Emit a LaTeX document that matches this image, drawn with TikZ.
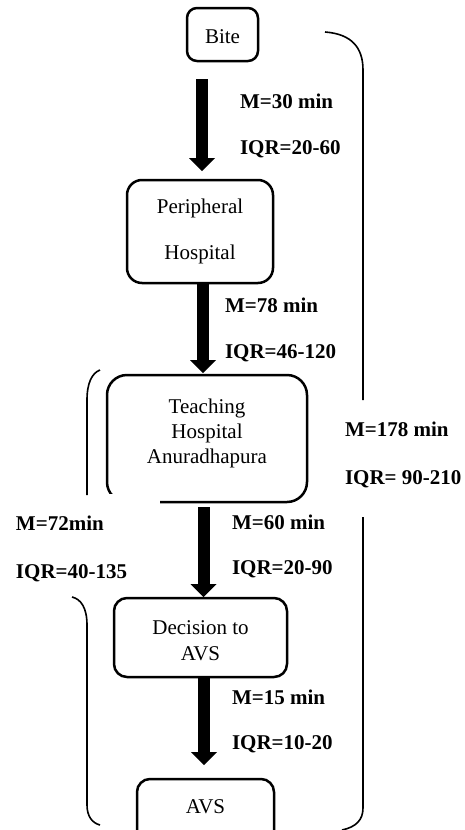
\documentclass[tikz,border=0pt]{standalone}
\usepackage{fontspec}
\setmainfont{Liberation Serif}
\usetikzlibrary{arrows.meta}
\begin{document}
\begin{tikzpicture}[x=1pt,y=-1pt,
  every node/.style={inner sep=0pt,outer sep=0pt,font=\fontsize{21}{25}\selectfont},
  stagebox/.style={draw,line width=2.5pt,minimum width=#1},
  boxtxt/.style={anchor=base},
  lab/.style={anchor=base west,font=\fontsize{21}{25}\selectfont\bfseries},
  bigarrow/.style={line width=12pt,-{Triangle[width=26pt,length=13pt,line width=0pt]}},
  bracket/.style={line width=1.6pt}]
\useasboundingbox (0,0) rectangle (465,830);
\begin{scope}
\clip (0,0) rectangle (465,830);
% boxes
\node[stagebox=71pt,minimum height=53pt,rounded corners=10pt] (bite) at (222.5,34.5) {};
\node[stagebox=146pt,minimum height=103pt,rounded corners=15pt] (peri) at (200,231.5) {};
\node[stagebox=200pt,minimum height=127pt,rounded corners=20pt] (teach) at (207,438.5) {};
\fill[white] (104,494) rectangle (160,507);
\node[stagebox=173pt,minimum height=79pt,rounded corners=13pt] (dec) at (200.5,637.5) {};
\node[stagebox=137pt,minimum height=70pt,rounded corners=13pt] (avs) at (205.5,814) {};
\end{scope}
% box texts
\node[boxtxt] (biteT) at (222.5,43) {Bite};
\node[boxtxt] (periT1) at (200,213) {Peripheral};
\node[boxtxt] (periT2) at (200,259) {Hospital};
\node[boxtxt] (teachT1) at (207,413) {Teaching};
\node[boxtxt] (teachT2) at (207,438) {Hospital};
\node[boxtxt] (teachT3) at (207,463) {Anuradhapura};
\node[boxtxt] (decT1) at (200.5,634) {Decision to};
\node[boxtxt] (decT2) at (200.5,660) {AVS};
\node[boxtxt] (avsT) at (205.5,813) {AVS};
% arrows
\coordinate (x1) at (202,0);
\coordinate (x2) at (203,0);
\coordinate (x3) at (203.5,0);
\coordinate (x4) at (204,0);
\draw[bigarrow,shorten <=18pt,shorten >=9pt] (bite.south -| x1) -- (peri.north -| x1);
\draw[bigarrow,shorten >=2pt] (peri.south -| x2) -- (teach.north -| x2);
\draw[bigarrow,shorten <=5pt,shorten >=1pt] (teach.south -| x3) -- (dec.north -| x3);
\draw[bigarrow,shorten >=14pt] (dec.south -| x4) -- (avs.north -| x4);
% labels
\node[lab] (m1) at (240,108.5) {M=30 min};
\node[lab] (q1) at (240,154) {IQR=20-60};
\node[lab] (m2) at (225,312.5) {M=78 min};
\node[lab] (q2) at (225,358.5) {IQR=46-120};
\node[lab] (mt) at (345,436.5) {M=178 min};
\node[lab] (qt) at (345,484.5) {IQR= 90-210};
\node[lab] (ml) at (16,530.5) {M=72min};
\node[lab] (ql) at (16,578.5) {IQR=40-135};
\node[lab] (m3) at (232,529.5) {M=60 min};
\node[lab] (q3) at (232,574.5) {IQR=20-90};
\node[lab] (m4) at (232,704.5) {M=15 min};
\node[lab] (q4) at (232,749.5) {IQR=10-20};
% brackets
\draw[bracket] (325,32) .. controls (352,34) and (363,48) .. (363,70) -- (363,400);
\draw[bracket] (363,517) -- (363,808) .. controls (363,820) and (356,827) .. (342,830);
\draw[bracket] (100,370) .. controls (92,373) and (87,383) .. (87,400) -- (87,495);
\draw[bracket] (72,597) .. controls (81,599) and (87,608) .. (87,625) -- (87,805) .. controls (87,816) and (92,823) .. (100,825);
\end{tikzpicture}
\end{document}
